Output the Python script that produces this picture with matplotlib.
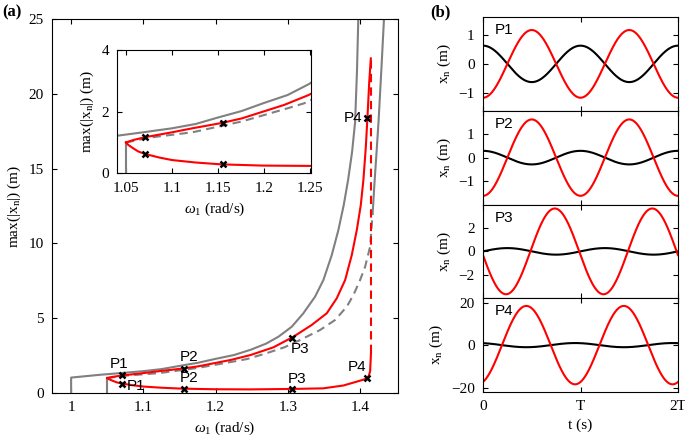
import numpy as np
import matplotlib.pyplot as plt

# fonts / Matlab-like style
plt.rcParams['font.family'] = ['Liberation Serif', 'DejaVu Serif']
plt.rcParams['mathtext.fontset'] = 'custom'
plt.rcParams['mathtext.rm'] = 'Liberation Serif'
plt.rcParams['mathtext.it'] = 'Liberation Serif:italic'
plt.rcParams['font.size'] = 11
plt.rcParams['xtick.direction'] = 'in'
plt.rcParams['ytick.direction'] = 'in'
plt.rcParams['xtick.top'] = True
plt.rcParams['ytick.right'] = True
plt.rcParams['xtick.major.size'] = 3.5
plt.rcParams['ytick.major.size'] = 3.5
plt.rcParams['xtick.major.pad'] = 6
plt.rcParams['ytick.major.pad'] = 6
plt.rcParams['axes.linewidth'] = 0.8

RED = '#ff0000'
GRAY = '#808080'

# ---- data ----
# left backbone (gray solid)
gray1_w = [1.0, 1.0, 1.0407, 1.0686, 1.1, 1.1257, 1.15, 1.1757, 1.1989, 1.2257, 1.2486, 1.27,
           1.287, 1.3055, 1.3216, 1.3378, 1.3493, 1.3609, 1.3701, 1.3775, 1.3835, 1.389, 1.3932,
           1.3958, 1.3978]
gray1_y = [0.0, 1.03, 1.22, 1.33, 1.46, 1.6, 1.81, 2.02, 2.27, 2.54, 2.89, 3.3,
           3.76, 4.43, 5.33, 6.44, 7.55, 9.22, 10.9, 12.57, 14.24, 16.1, 18.1,
           21.5, 25.3]

# vertical gray segment at the start of the red curve
gray2_w = [1.05, 1.05]
gray2_y = [0.0, 1.0]

# second backbone: dashed part then solid part
gray_dash_w = [1.05, 1.0757, 1.1221, 1.1757, 1.2257, 1.2436, 1.27, 1.295, 1.317, 1.3447,
               1.3655, 1.3817, 1.3909, 1.4001, 1.4071, 1.414, 1.4175]
gray_dash_y = [1.0, 1.16, 1.33, 1.68, 2.11, 2.27, 2.65, 3.05, 3.54, 4.21,
               4.88, 5.77, 6.55, 7.55, 8.44, 9.78, 12.0]
gray_solid_w = [1.4175, 1.42, 1.4228, 1.4258, 1.43, 1.4332, 1.434]
gray_solid_y = [12.0, 14.0, 16.0, 18.25, 22.0, 25.0, 25.8]

# frequency response (red)
red_up_w = [1.05, 1.0579, 1.0704, 1.1, 1.1221, 1.1536, 1.1757, 1.1989, 1.2221, 1.2486, 1.28,
            1.3078, 1.3332, 1.354, 1.3678, 1.3794, 1.3886, 1.3956, 1.4011, 1.4047, 1.408,
            1.4103, 1.4128, 1.415]
red_up_y = [1.0, 1.08, 1.17, 1.33, 1.46, 1.63, 1.78, 2.0, 2.22, 2.54, 3.05,
            3.76, 4.55, 5.33, 6.33, 7.55, 9.22, 10.9, 12.57, 14.24, 16.4,
            18.4, 20.8, 22.37]
red_lo_w = [1.05, 1.0525, 1.0579, 1.0632, 1.0704, 1.0864, 1.1, 1.1257, 1.1536, 1.1989, 1.2486,
            1.3055, 1.349, 1.377, 1.3956, 1.404, 1.41, 1.4122, 1.414, 1.4152]
red_lo_y = [1.0, 0.92, 0.81, 0.71, 0.63, 0.51, 0.43, 0.35, 0.29, 0.25, 0.24,
            0.27, 0.31, 0.5, 0.76, 0.88, 0.98, 1.15, 1.45, 2.65]
red_dash_w = [1.4152, 1.4152]
red_dash_y = [2.65, 22.37]

# marked points P1..P4
pt_names = ['P1', 'P2', 'P3', 'P4']
pt_w = [1.0704, 1.1557, 1.3055, 1.4100]
pt_amp_up = [1.17, 1.63, 3.66, 18.4]   # red mass amplitude
pt_amp_lo = [0.63, 0.29, 0.28, 0.98]   # black mass amplitude
# label offsets (points) for upper / lower markers
off_up = [(-2, 8), (4, 8), (6, -8), (-10, 0)]
off_lo = [(10, -2), (4, 8), (4, 7), (-7, 8)]

# time responses: phase (deg) of each signal
phase_red = [180, 180, 95, 200]
phase_blk = [0, 0, -90, 20]
ylims_b = [1.62, 2.0, 4.0, 22.0]
yticks_b = [[-1, 0, 1], [-1, 0, 1], [-2, 0, 2], [-20, 0, 20]]

fig = plt.figure(figsize=(6.85, 4.43), dpi=100)

# ---- panel (a) ----
ax = fig.add_axes([0.0759, 0.1129, 0.5051, 0.8441])


def draw_response(a):
    a.plot(gray1_w, gray1_y, color=GRAY, lw=1.5)
    a.plot(gray2_w, gray2_y, color=GRAY, lw=1.5)
    a.plot(gray_dash_w, gray_dash_y, color=GRAY, lw=1.5, dashes=(4, 2.5))
    a.plot(gray_solid_w, gray_solid_y, color=GRAY, lw=1.5)
    a.plot(red_up_w, red_up_y, color=RED, lw=1.5)
    a.plot(red_lo_w, red_lo_y, color=RED, lw=1.5)
    a.plot(red_dash_w, red_dash_y, color=RED, lw=1.5, dashes=(4, 2.5))
    a.plot(pt_w, pt_amp_up, 'x', color='k', ms=4.5, mew=1.8)
    a.plot(pt_w, pt_amp_lo, 'x', color='k', ms=4.5, mew=1.8)


draw_response(ax)
for i, name in enumerate(pt_names):
    ax.annotate(name, (pt_w[i], pt_amp_up[i]), xytext=off_up[i], textcoords='offset points',
                ha='center', va='center', family='Liberation Sans', fontsize=11)
    ax.annotate(name, (pt_w[i], pt_amp_lo[i]), xytext=off_lo[i], textcoords='offset points',
                ha='center', va='center', family='Liberation Sans', fontsize=11)
ax.set_xlim(0.9735, 1.4526)
ax.set_ylim(0, 25)
ax.set_xticks([1, 1.1, 1.2, 1.3, 1.4])
ax.set_xticklabels(['1', '1.1', '1.2', '1.3', '1.4'])
ax.set_yticks([0, 5, 10, 15, 20, 25])
ax.set_xlabel(r'$\omega_1$ (rad/s)', labelpad=4)
ax.set_ylabel(r'max(|x$_\mathrm{n}$|) (m)', labelpad=4)

# inset
axi = fig.add_axes([0.1712, 0.6088, 0.2833, 0.2783])
draw_response(axi)
axi.set_xlim(1.0405, 1.2515)
axi.set_ylim(0, 4)
axi.set_xticks([1.05, 1.1, 1.15, 1.2, 1.25])
axi.set_xticklabels(['1.05', '1.1', '1.15', '1.2', '1.25'])
axi.set_yticks([0, 2, 4])
axi.set_xlabel(r'$\omega_1$ (rad/s)', labelpad=4)
axi.set_ylabel(r'max(|x$_\mathrm{n}$|) (m)', labelpad=4)

# ---- panel (b) ----
t = np.linspace(0, 2, 400)
left_b, width_b = 483 / 685, 195 / 685
h_b = 93.75 / 443
for i in range(4):
    bottom = (443 - 17 - (i + 1) * 93.75) / 443
    axb = fig.add_axes([left_b, bottom, width_b, h_b])
    axb.plot(t, pt_amp_lo[i] * np.cos(2 * np.pi * t + np.radians(phase_blk[i])), color='k', lw=1.5)
    axb.plot(t, pt_amp_up[i] * np.cos(2 * np.pi * t + np.radians(phase_red[i])), color=RED, lw=1.5)
    axb.set_xlim(0, 2)
    axb.set_ylim(-ylims_b[i], ylims_b[i])
    axb.set_yticks(yticks_b[i])
    axb.set_xticks([0, 1, 2])
    axb.text(0.06, 0.86, pt_names[i], transform=axb.transAxes, family='Liberation Sans',
             fontsize=11, va='center')
    axb.set_ylabel(r'x$_\mathrm{n}$ (m)', labelpad=4)
    if i < 3:
        axb.set_xticklabels([])
    else:
        axb.set_xticklabels(['0', 'T', '2T'])
        axb.set_xlabel('t (s)', labelpad=4)

fig.text(0.003, 0.972, '(a)', fontweight='bold', fontsize=12, va='center')
fig.text(0.628, 0.972, '(b)', fontweight='bold', fontsize=12, va='center')

fig.savefig('out.png', dpi=100)
